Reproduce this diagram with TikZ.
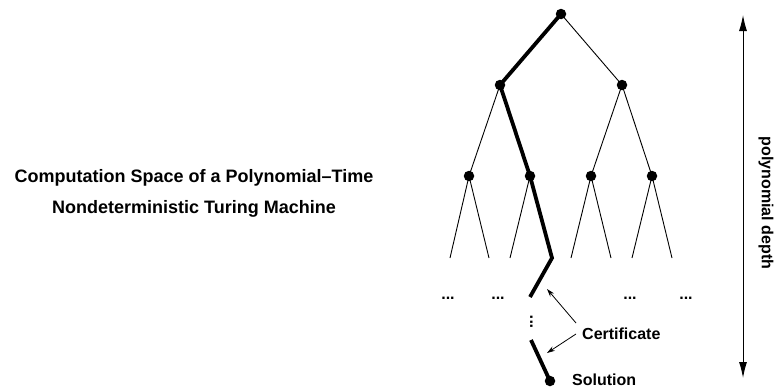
\documentclass[tikz,border=0pt]{standalone}
\usepackage{fontspec}
\setmainfont{Liberation Sans}
\usetikzlibrary{arrows.meta}
\begin{document}
\begin{tikzpicture}[x=1pt,y=-1pt,
  dot/.style={circle,fill=black,inner sep=0pt,minimum size=10.5pt},
  thin line/.style={line width=0.9pt},
  thick line/.style={line width=3.8pt},
  lbl/.style={font=\fontsize{16}{19}\selectfont\bfseries,inner sep=0pt},
  ptr/.style={line width=0.8pt,-{Stealth[length=8pt,width=5pt]}}]
\useasboundingbox (0,0) rectangle (776,388);
% left caption
\node[inner sep=0pt,align=center,font=\fontsize{18}{31}\selectfont\bfseries] (cap) at (194,193)
  {Computation Space of a Polynomial–Time\\Nondeterministic Turing Machine};
% tree nodes
\node[dot] (r) at (561,14) {};
\node[dot] (a) at (500,85) {};
\node[dot] (b) at (622,85) {};
\node[dot] (aa) at (469,176) {};
\node[dot] (ab) at (530,176) {};
\node[dot] (ba) at (591,176) {};
\node[dot] (bb) at (652,176) {};
\coordinate (l1) at (450,258);
\coordinate (l2) at (489,258);
\coordinate (l3) at (510,258);
\coordinate (l4) at (552,258);
\coordinate (l5) at (571,258);
\coordinate (l6) at (611,258);
\coordinate (l7) at (632,258);
\coordinate (l8) at (672,258);
\coordinate (p1) at (530,297);
\coordinate (p2) at (531,340);
\node[dot] (sol) at (550,381) {};
% thin edges
\draw[thin line] (r.center) -- (b.center);
\draw[thin line] (a.center) -- (aa.center);
\draw[thin line] (b.center) -- (ba.center);
\draw[thin line] (b.center) -- (bb.center);
\draw[thin line] (aa.center) -- (l1);
\draw[thin line] (aa.center) -- (l2);
\draw[thin line] (ab.center) -- (l3);
\draw[thin line] (ba.center) -- (l5);
\draw[thin line] (ba.center) -- (l6);
\draw[thin line] (bb.center) -- (l7);
\draw[thin line] (bb.center) -- (l8);
% certificate path
\draw[thick line,line join=miter] (r.center) -- (a.center) -- (ab.center) -- (l4) -- (p1);
\draw[thick line] (p2) -- (sol.center);
% ellipses
\node[lbl,anchor=base] (e1) at (448,299) {...};
\node[lbl,anchor=base] (e2) at (498,299) {...};
\node[lbl,anchor=base] (e3) at (630,299) {...};
\node[lbl,anchor=base] (e4) at (686,299) {...};
\node[lbl,anchor=base,rotate=90] (vd) at (532.5,322) {...};
% labels
\node[lbl,anchor=base west] (cert) at (582,339) {Certificate};
\node[lbl,anchor=base west] (soln) at (572,385) {Solution};
\coordinate (c1s) at (576,323);
\coordinate (c1e) at (547,289);
\coordinate (c2s) at (576,334);
\coordinate (c2e) at (547,353);
\draw[ptr] (c1s) -- (c1e);
\draw[ptr] (c2s) -- (c2e);
% depth arrow
\coordinate (dt) at (743,15);
\coordinate (db) at (743,378);
\draw[line width=1pt,{Latex[length=16pt,width=8pt]}-{Latex[length=16pt,width=8pt]}] (dt) -- (db);
\node[lbl,rotate=-90] (depth) at (766,203) {polynomial depth};
\end{tikzpicture}
\end{document}
